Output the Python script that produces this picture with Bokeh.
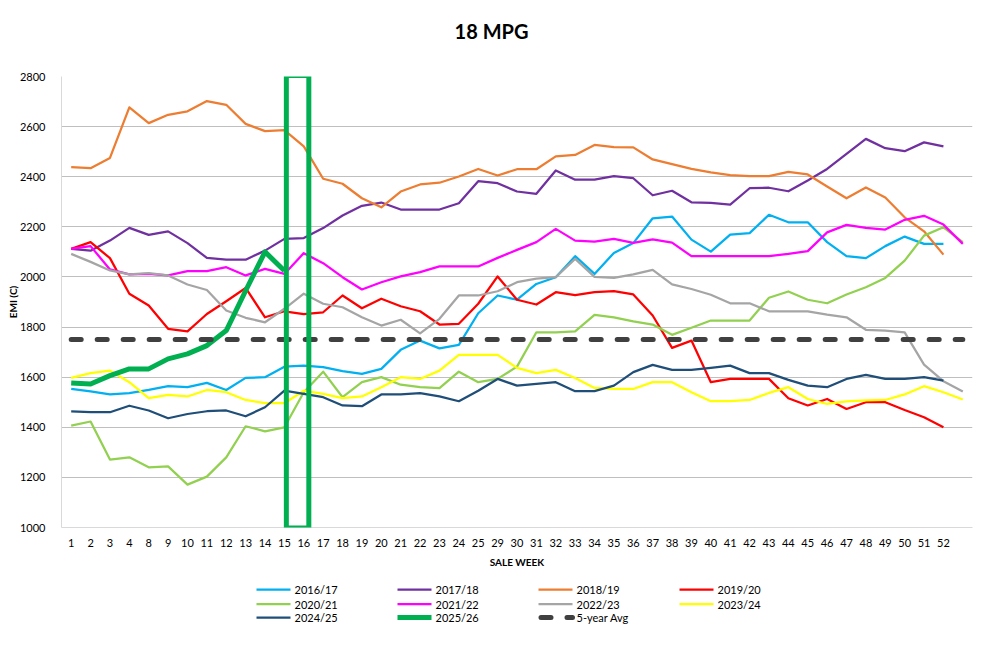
from bokeh.plotting import figure
from bokeh.layouts import column
from bokeh.models import FactorRange, Range1d, FixedTicker, BoxAnnotation
from bokeh.core.properties import value
from bokeh.embed import file_html
from bokeh.resources import INLINE

# ---------------- data ----------------
title_text = "18 MPG"
weeks = ["1", "2", "3", "4", "8", "9", "10", "11", "12", "13", "14", "15", "16", "17", "18",
         "19", "20", "21", "22", "23", "24", "25", "29", "30", "31", "32", "33", "34", "35",
         "36", "37", "38", "39", "40", "41", "42", "43", "44", "45", "46", "47", "48", "49",
         "50", "51", "52", " "]

s2016_17 = [1553, 1543, 1531, 1536, 1549, 1564, 1560, 1577, 1549, 1597, 1600, 1642, 1646, 1640,
            1624, 1613, 1633, 1709, 1746, 1715, 1729, 1855, 1926, 1909, 1972, 1999, 2083, 2012,
            2096, 2135, 2234, 2241, 2149, 2101, 2169, 2175, 2248, 2218, 2218, 2139, 2083, 2075,
            2123, 2161, 2132, 2132]
s2017_18 = [2112, 2105, 2145, 2196, 2168, 2182, 2135, 2076, 2069, 2069, 2105, 2152, 2155, 2195,
            2245, 2284, 2297, 2269, 2269, 2269, 2294, 2382, 2374, 2341, 2332, 2425, 2388, 2388,
            2402, 2394, 2326, 2344, 2298, 2296, 2289, 2354, 2356, 2342, 2385, 2431, 2491, 2551,
            2514, 2502, 2537, 2521]
s2018_19 = [2438, 2434, 2475, 2677, 2614, 2647, 2661, 2702, 2687, 2611, 2582, 2586, 2521, 2392,
            2372, 2314, 2278, 2341, 2369, 2376, 2401, 2431, 2405, 2430, 2430, 2481, 2487, 2527,
            2518, 2517, 2469, 2450, 2431, 2417, 2406, 2402, 2402, 2419, 2409, 2361, 2314, 2357,
            2317, 2238, 2182, 2089]
s2019_20 = [2112, 2139, 2075, 1933, 1886, 1793, 1783, 1852, 1903, 1956, 1839, 1863, 1852, 1859,
            1926, 1875, 1913, 1883, 1863, 1810, 1813, 1893, 2002, 1909, 1890, 1939, 1927, 1939,
            1943, 1930, 1846, 1717, 1746, 1580, 1593, 1593, 1593, 1516, 1487, 1513, 1473, 1500,
            1500, 1469, 1440, 1400]
s2020_21 = [1407, 1423, 1271, 1280, 1240, 1244, 1171, 1203, 1280, 1404, 1384, 1400, 1540, 1622,
            1520, 1580, 1600, 1570, 1560, 1556, 1622, 1580, 1593, 1642, 1779, 1779, 1783, 1849,
            1839, 1823, 1810, 1769, 1797, 1826, 1826, 1826, 1917, 1942, 1909, 1895, 1930, 1959,
            1996, 2065, 2165, 2198, 2139]
s2021_22 = [2112, 2123, 2030, 2010, 2012, 2006, 2023, 2023, 2039, 2006, 2032, 2012, 2095, 2055,
            1999, 1950, 1979, 2002, 2019, 2042, 2042, 2042, 2076, 2108, 2139, 2192, 2145, 2141,
            2152, 2136, 2150, 2137, 2083, 2083, 2083, 2083, 2083, 2092, 2103, 2178, 2208, 2196,
            2189, 2228, 2244, 2209, 2132]
s2022_23 = [2092, 2060, 2026, 2010, 2015, 2006, 1970, 1948, 1866, 1837, 1819, 1873, 1933, 1893,
            1879, 1839, 1806, 1829, 1775, 1833, 1926, 1926, 1943, 1979, 1993, 1999, 2072, 2000,
            1996, 2010, 2028, 1970, 1952, 1929, 1895, 1895, 1863, 1863, 1863, 1850, 1839, 1789,
            1786, 1779, 1650, 1584, 1543]
s2023_24 = [1597, 1616, 1626, 1580, 1516, 1529, 1523, 1549, 1540, 1509, 1496, 1496, 1546, 1533,
            1516, 1523, 1560, 1600, 1593, 1626, 1689, 1689, 1689, 1637, 1616, 1629, 1597, 1557,
            1553, 1553, 1580, 1580, 1540, 1504, 1504, 1509, 1537, 1560, 1513, 1493, 1503, 1507,
            1509, 1531, 1564, 1540, 1511]
s2024_25 = [1463, 1460, 1460, 1486, 1467, 1436, 1453, 1464, 1467, 1444, 1480, 1546, 1533, 1520,
            1487, 1484, 1531, 1531, 1536, 1523, 1504, 1546, 1593, 1566, 1573, 1580, 1544, 1544,
            1566, 1620, 1649, 1629, 1629, 1637, 1646, 1616, 1616, 1589, 1566, 1560, 1593, 1609,
            1593, 1593, 1600, 1586]
s2025_26 = [1577, 1573, 1606, 1633, 1633, 1673, 1693, 1726, 1786, 1945, 2100, 2025]
avg_5yr = [1750, 1750, 1750, 1750, 1750, 1750, 1750, 1750, 1750, 1750, 1750, 1750, 1750, 1750,
           1750, 1750, 1750, 1750, 1750, 1750, 1750, 1750, 1750, 1750, 1750, 1750, 1750, 1750,
           1750, 1750, 1750, 1750, 1750, 1750, 1750, 1750, 1750, 1750, 1750, 1750, 1750, 1750,
           1750, 1750, 1750, 1750, 1750]

y_ticks = [1000, 1200, 1400, 1600, 1800, 2000, 2200, 2400, 2600, 2800]
highlight_weeks = ["15", "16"]

FONT = "Lato"
W = 987
FRAME_L, FRAME_R = 61, 972   # frames of all stacked figures are aligned


def blank_strip(h):
    f = figure(width=W, height=h, x_range=Range1d(FRAME_L, FRAME_R), y_range=Range1d(h, 0),
               output_backend="svg", toolbar_location=None,
               x_axis_type=None, y_axis_type=None,
               min_border_left=FRAME_L, min_border_right=W - FRAME_R,
               min_border_top=0, min_border_bottom=0)
    f.outline_line_color = None
    f.xgrid.visible = False
    f.ygrid.visible = False
    f.background_fill_color = "white"
    f.border_fill_color = "white"
    return f


# ---------------- header (title) ----------------
HH = 50
hf = blank_strip(HH)
hf.text(x=[491], y=[30], text=[title_text], text_align="center", text_baseline="middle",
        text_font=value(FONT), text_font_size="20px", text_font_style="bold",
        text_color="#000000")

# ---------------- main chart ----------------
p = figure(width=W, height=530,
           x_range=FactorRange(factors=weeks, range_padding=0),
           y_range=Range1d(1000, 2800),
           output_backend="svg", toolbar_location=None,
           min_border_left=FRAME_L, min_border_right=W - FRAME_R,
           min_border_top=26, min_border_bottom=53)
p.outline_line_color = None
p.background_fill_color = "white"
p.border_fill_color = "white"

p.yaxis.ticker = FixedTicker(ticks=y_ticks)
p.ygrid.ticker = FixedTicker(ticks=y_ticks)
p.ygrid.grid_line_color = "#BFBFBF"
p.ygrid.grid_line_width = 1
p.xgrid.grid_line_color = None

for ax in (p.xaxis, p.yaxis):
    ax.major_tick_line_color = None
    ax.minor_tick_line_color = None
    ax.axis_line_color = "#D9D9D9"
    ax.major_label_text_font = FONT
    ax.major_label_text_font_size = "11px"
    ax.major_label_text_color = "#000000"
    ax.axis_label_text_font = FONT
    ax.axis_label_text_font_size = "10px"
    ax.axis_label_text_font_style = "bold"
    ax.axis_label_text_color = "#000000"

p.yaxis.axis_label = "EMI (C)"
p.yaxis.major_label_standoff = 10
p.yaxis.axis_label_standoff = -2
p.xaxis.axis_label = "SALE WEEK"
p.xaxis.major_label_standoff = 2
p.xaxis.axis_label_standoff = 4

series = [
    ("2016/17", s2016_17, "#00B0F0", 2.25, None),
    ("2017/18", s2017_18, "#7030A0", 2.25, None),
    ("2018/19", s2018_19, "#ED7D31", 2.25, None),
    ("2019/20", s2019_20, "#FF0000", 2.25, None),
    ("2020/21", s2020_21, "#92D050", 2.25, None),
    ("2021/22", s2021_22, "#FF00FF", 2.25, None),
    ("2022/23", s2022_23, "#A5A5A5", 2.25, None),
    ("2023/24", s2023_24, "#FFFF00", 2.25, None),
    ("2024/25", s2024_25, "#1F4E79", 2.25, None),
    ("2025/26", s2025_26, "#00B050", 5, None),
    ("5-year Avg", avg_5yr, "#404040", 5, "10 16"),
]


def style(color, lw, dash):
    kw = dict(line_color=color, line_width=lw, line_join="round")
    if dash:
        kw["line_dash"] = dash
        kw["line_cap"] = "round"
    return kw


for label, vals, color, lw, dash in series:
    p.line(x=weeks[:len(vals)], y=vals, **style(color, lw, dash))

i0 = weeks.index(highlight_weeks[0])
i1 = weeks.index(highlight_weeks[1])
box = BoxAnnotation(left=i0 + 0.6, right=i1 + 0.76, bottom=998, top=2804,
                    fill_alpha=0, line_color="#00B050", line_width=5, line_alpha=1,
                    level="overlay")
p.add_layout(box)

# ---------------- legend strip ----------------
LH = 68
lg = blank_strip(LH)
col_x0 = [256, 397, 538, 679]
row_y = [9, 23.5, 37]
swatch_w = 34
for k, (label, vals, color, lw, dash) in enumerate(series):
    x0 = col_x0[k % 4]
    yy = row_y[k // 4]
    if dash:
        lg.line(x=[x0 + 2.5, x0 + swatch_w], y=[yy, yy], **style(color, lw, dash))
    else:
        lg.line(x=[x0, x0 + swatch_w], y=[yy, yy], **style(color, lw, dash))
    lg.text(x=[x0 + swatch_w + 4], y=[yy], text=[label], text_align="left",
            text_baseline="middle", text_font=value(FONT), text_font_size="11px",
            text_color="#000000")

open("out.html", "w").write(file_html(column(hf, p, lg, spacing=0), INLINE))
